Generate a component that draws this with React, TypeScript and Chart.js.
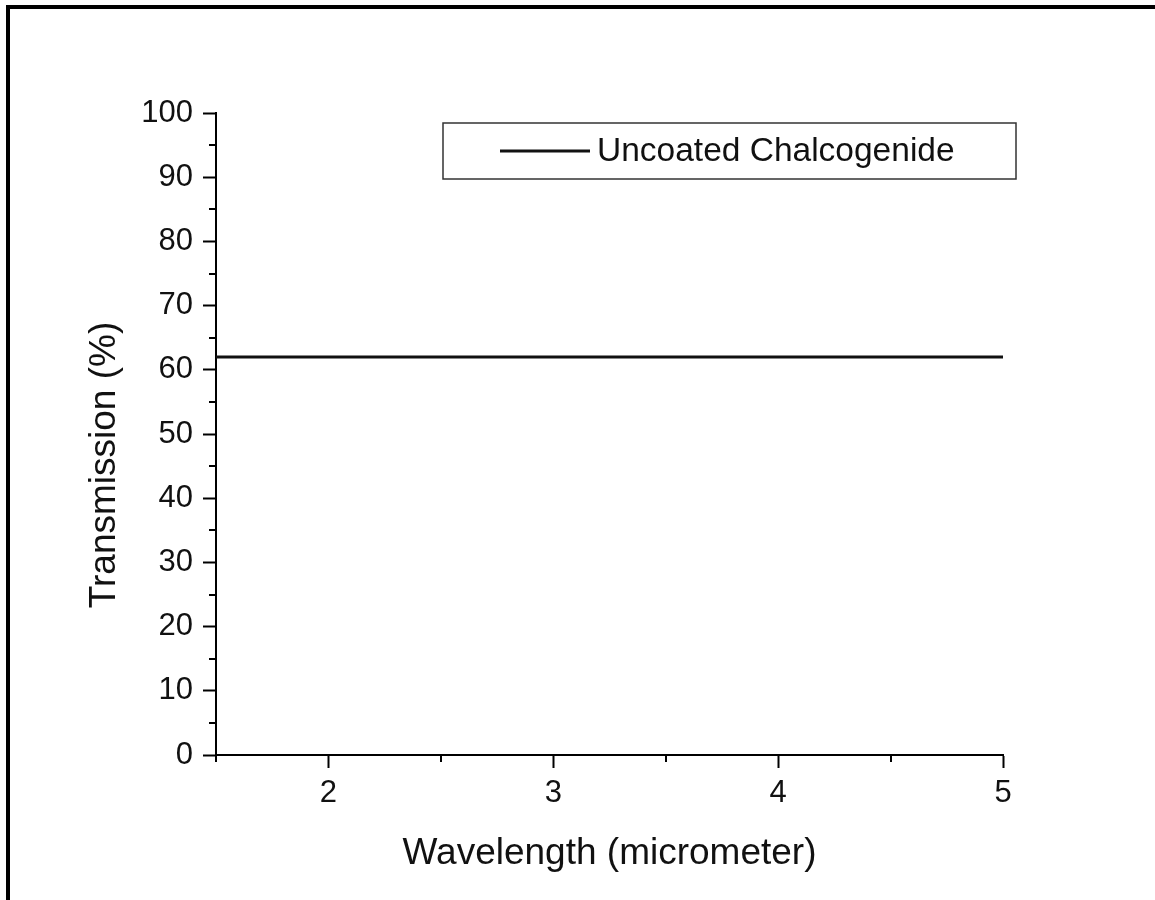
import React, { useEffect, useRef } from "react";
import { Chart, registerables } from "chart.js";

Chart.register(...registerables);

// Wavelength samples (micrometer) and measured transmission (%)
const wavelengths = [1.5, 2, 3, 4, 5];
const transmission = [62, 62, 62, 62, 62];
const seriesLabel = "Uncoated Chalcogenide";

const xTickValues = [1.5, 2, 2.5, 3, 3.5, 4, 4.5, 5];
const xMajorTicks = [2, 3, 4, 5];
const yTickValues = [0, 5, 10, 15, 20, 25, 30, 35, 40, 45, 50, 55, 60, 65, 70, 75, 80, 85, 90, 95, 100];
const yMajorTicks = [0, 10, 20, 30, 40, 50, 60, 70, 80, 90, 100];

const xTitle = "Wavelength (micrometer)";
const yTitle = "Transmission (%)";

const FONT = "'Liberation Sans', Arial, Helvetica, sans-serif";

const decorations = {
  id: "decorations",
  afterDraw(chart: any) {
    const ctx = chart.ctx;
    const area = chart.chartArea;
    const xs = chart.scales.x;
    const ys = chart.scales.y;
    ctx.save();
    ctx.strokeStyle = "#000";
    ctx.lineWidth = 2;
    // minor ticks
    xTickValues.filter((v) => !xMajorTicks.includes(v)).forEach((v) => {
      const px = Math.round(xs.getPixelForValue(v));
      ctx.beginPath();
      ctx.moveTo(px, area.bottom);
      ctx.lineTo(px, area.bottom + 7);
      ctx.stroke();
    });
    yTickValues.filter((v) => !yMajorTicks.includes(v)).forEach((v) => {
      const py = Math.round(ys.getPixelForValue(v));
      ctx.beginPath();
      ctx.moveTo(area.left, py);
      ctx.lineTo(area.left - 7, py);
      ctx.stroke();
    });

    // axis titles
    ctx.fillStyle = "#111";
    ctx.font = `37px ${FONT}`;
    ctx.textAlign = "center";
    ctx.textBaseline = "alphabetic";
    ctx.fillText(xTitle, (area.left + area.right) / 2, 864);
    ctx.save();
    ctx.translate(115, 465);
    ctx.rotate(-Math.PI / 2);
    ctx.fillText(yTitle, 0, 0);
    ctx.restore();

    // legend
    const ds = chart.data.datasets[0];
    const bx = 443, by = 123, bw = 573, bh = 56;
    ctx.lineWidth = 1.5;
    ctx.strokeStyle = "#333";
    ctx.strokeRect(bx, by, bw, bh);
    ctx.strokeStyle = ds.borderColor;
    ctx.lineWidth = ds.borderWidth;
    ctx.beginPath();
    ctx.moveTo(500, by + bh / 2);
    ctx.lineTo(590, by + bh / 2);
    ctx.stroke();
    ctx.fillStyle = "#111";
    ctx.font = `33.5px ${FONT}`;
    ctx.textAlign = "left";
    ctx.textBaseline = "middle";
    ctx.fillText(ds.label, 597, by + bh / 2 + 1);
    ctx.restore();
  },
};

export default function App() {
  const canvasRef = useRef<HTMLCanvasElement>(null);

  useEffect(() => {
    const canvas = canvasRef.current;
    if (!canvas) return;
    const chart = new Chart(canvas, {
      type: "line",
      data: {
        datasets: [
          {
            label: seriesLabel,
            data: wavelengths.map((w, i) => ({ x: w, y: transmission[i] })),
            borderColor: "#111",
            borderWidth: 3,
            pointRadius: 0,
            tension: 0,
          },
        ],
      },
      options: {
        animation: false,
        responsive: false,
        maintainAspectRatio: false,
        layout: { padding: { left: 0, right: 152, top: 113, bottom: 0 } },
        plugins: { legend: { display: false }, tooltip: { enabled: false } },
        scales: {
          x: {
            type: "linear",
            min: 1.5,
            max: 5,
            afterBuildTicks: (s: any) => {
              s.ticks = xTickValues.map((v) => ({ value: v }));
            },
            afterFit: (s: any) => {
              s.height = 145;
            },
            ticks: {
              autoSkip: false,
              maxRotation: 0,
              padding: 7,
              color: "#111",
              font: { family: FONT, size: 31 },
              callback: (v: any) => (xMajorTicks.includes(Number(v)) ? String(v) : ""),
            },
            grid: {
              drawOnChartArea: false,
              drawTicks: true,
              tickLength: 13,
              tickWidth: 2,
              tickColor: (c: any) =>
                c.tick && xMajorTicks.includes(c.tick.value) ? "#000" : "rgba(0,0,0,0)",
            },
            border: { display: true, color: "#000", width: 2 },
          },
          y: {
            type: "linear",
            min: 0,
            max: 100,
            afterBuildTicks: (s: any) => {
              s.ticks = yTickValues.map((v) => ({ value: v }));
            },
            afterFit: (s: any) => {
              s.width = 216;
            },
            ticks: {
              autoSkip: false,
              padding: 10,
              color: "#111",
              font: { family: FONT, size: 31 },
              callback: (v: any) => (yMajorTicks.includes(Number(v)) ? String(v) : ""),
            },
            grid: {
              drawOnChartArea: false,
              drawTicks: true,
              tickLength: 13,
              tickWidth: 2,
              tickColor: (c: any) =>
                c.tick && yMajorTicks.includes(c.tick.value) ? "#000" : "rgba(0,0,0,0)",
            },
            border: { display: true, color: "#000", width: 2 },
          },
        },
      },
      plugins: [decorations],
    });
    return () => chart.destroy();
  }, []);

  return (
    <div style={{ position: "absolute", left: 0, top: 0, width: 1155, height: 900, background: "#fff", overflow: "hidden" }}>
      <canvas ref={canvasRef} width={1155} height={900} style={{ position: "absolute", left: 0, top: 0 }} />
      <div
        style={{
          position: "absolute",
          left: 6,
          top: 5,
          right: 0,
          bottom: 0,
          borderLeft: "4px solid #000",
          borderTop: "4px solid #000",
          pointerEvents: "none",
        }}
      />
    </div>
  );
}
